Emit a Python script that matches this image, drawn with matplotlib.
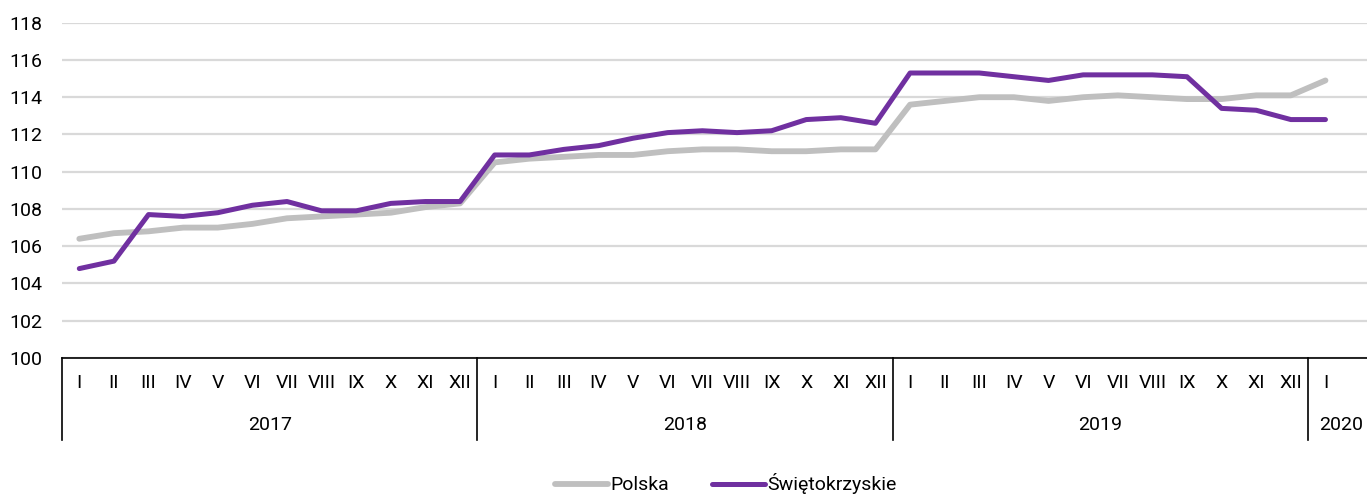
import matplotlib.pyplot as plt

# wskaźnik cen, miesiace I.2017 - I.2020
months = ["I", "II", "III", "IV", "V", "VI", "VII", "VIII", "IX", "X", "XI", "XII"] * 3 + ["I"]
years = ["2017", "2018", "2019", "2020"]
year_len = [12, 12, 12, 1]

polska = [106.4, 106.7, 106.8, 107.0, 107.0, 107.2, 107.5, 107.6, 107.7, 107.8, 108.1, 108.3,
          110.5, 110.7, 110.8, 110.9, 110.9, 111.1, 111.2, 111.2, 111.1, 111.1, 111.2, 111.2,
          113.6, 113.8, 114.0, 114.0, 113.8, 114.0, 114.1, 114.0, 113.9, 113.9, 114.1, 114.1,
          114.9]
swietokrzyskie = [104.8, 105.2, 107.7, 107.6, 107.8, 108.2, 108.4, 107.9, 107.9, 108.3, 108.4, 108.4,
                  110.9, 110.9, 111.2, 111.4, 111.8, 112.1, 112.2, 112.1, 112.2, 112.8, 112.9, 112.6,
                  115.3, 115.3, 115.3, 115.1, 114.9, 115.2, 115.2, 115.2, 115.1, 113.4, 113.3, 112.8,
                  112.8]

plt.rcParams['font.family'] = ['Roboto', 'DejaVu Sans']

fig = plt.figure(figsize=(13.67, 4.95), dpi=100)
ax = fig.add_axes([62 / 1367, 137 / 495, 1 - 62 / 1367, (358 - 22.7) / 495])

x = list(range(len(months)))
ax.plot(x, polska, color='#bfbfbf', lw=4.2, solid_capstyle='round', label='Polska', zorder=3)
ax.plot(x, swietokrzyskie, color='#7030a0', lw=3.6, solid_capstyle='round', label='Świętokrzyskie', zorder=4)

ax.set_ylim(100, 118)
ax.set_yticks(range(100, 119, 2))
xmax = 37.2
ax.set_xlim(-0.5, xmax)
ax.grid(axis='y', color='#d9d9d9', lw=1.6)
ax.set_axisbelow(True)
ax.tick_params(axis='y', length=0, labelsize=14, pad=14)
ax.set_xticks([])
for s in ['left', 'right', 'top']:
    ax.spines[s].set_visible(False)
ax.spines['bottom'].set_color('black')
ax.spines['bottom'].set_linewidth(1.2)

# etykiety osi X w dwóch poziomach
ah = 358 - 22.7
trans = ax.get_xaxis_transform()
for i, m in enumerate(months):
    ax.text(i, -25 / ah, m, transform=trans, ha='center', va='center', fontsize=14)

start = 0
for y, n in zip(years, year_len):
    end = start + n - 0.5 if start + n < len(months) else xmax + 0.2
    ax.text((start - 0.5 + end) / 2, -67 / ah, y, transform=trans, ha='center', va='center', fontsize=14)
    ax.plot([start - 0.5, start - 0.5], [0, -82 / ah], transform=trans, color='black', lw=1.2, clip_on=False)
    start += n

fig.legend(loc='center', bbox_to_anchor=(726 / 1367, 1 - 484 / 495), ncol=2, frameon=False,
           fontsize=14, handlelength=2.7, handletextpad=0.15, columnspacing=2.2)

fig.savefig('out.png', dpi=100)
